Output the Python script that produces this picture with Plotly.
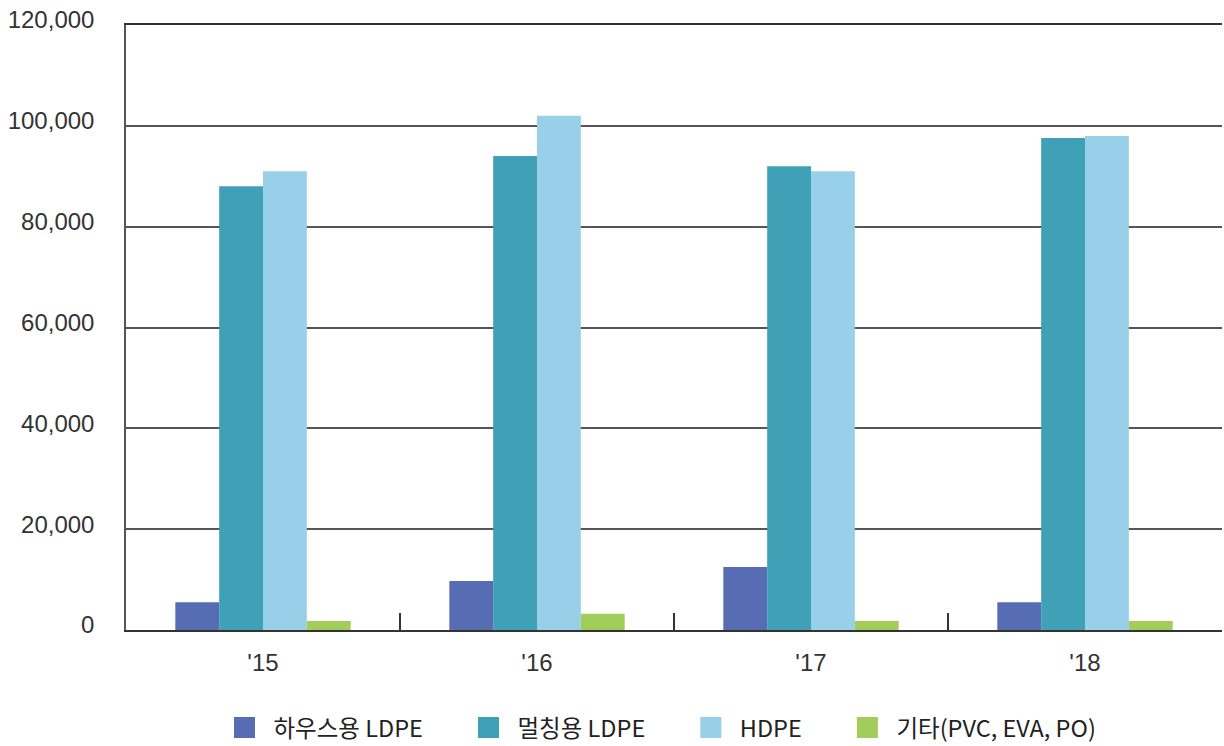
import plotly.graph_objects as go

years = ["'15", "'16", "'17", "'18"]
series_names = ["하우스용 LDPE", "멀칭용 LDPE", "HDPE", "기타(PVC, EVA, PO)"]
house_ldpe = [5500, 9700, 12500, 5500]
mulch_ldpe = [88000, 94000, 92000, 97600]
hdpe = [91000, 102000, 91000, 98000]
other = [1800, 3200, 1800, 1800]
colors = ["#576db3", "#40a0b6", "#98cfe9", "#a3cd5a"]
y_ticks = [0, 20000, 40000, 60000, 80000, 100000, 120000]

fig = go.Figure()
for name, vals, col in zip(series_names, [house_ldpe, mulch_ldpe, hdpe, other], colors):
    fig.add_trace(go.Bar(x=years, y=vals, name=name, showlegend=False,
                         marker=dict(color=col, line=dict(width=0))))
# legend entries with larger square symbols
for name, col in zip(series_names, colors):
    fig.add_trace(go.Scatter(x=[None], y=[None], mode="markers", name=name + "\u00a0" * 6,
                             marker=dict(symbol="square", size=16, color=col,
                                         line=dict(width=5, color=col))))

fig.update_layout(
    width=1224, height=746,
    barmode="group", bargap=0.36, bargroupgap=0,
    plot_bgcolor="white", paper_bgcolor="white",
    margin=dict(l=126, r=2, t=25, b=116, autoexpand=False),
    font=dict(family="Liberation Sans, Arial, sans-serif", size=24, color="#333333"),
    legend=dict(orientation="h", x=0.5, xanchor="center", y=-0.125, yanchor="top",
                font=dict(family="Noto Sans CJK KR, sans-serif", size=23.5, color="#222222"),
                itemwidth=48, tracegroupgap=0),
    xaxis=dict(showgrid=False, showline=True, linecolor="#333333", linewidth=2, mirror=True,
               ticks="inside", tickson="boundaries", ticklen=17, tickcolor="#333333", tickwidth=1.5,
               ticklabelstandoff=10, automargin=False,
               tickfont=dict(size=24, color="#333333")),
    yaxis=dict(range=[0, 120000], tickvals=y_ticks, tickformat=",", showgrid=True,
               gridcolor="#555555", gridwidth=1.5, showline=True, linecolor="#555555", linewidth=1.5,
               zeroline=False, ticks="", ticklabelstandoff=25, ticklabelshift=-5, automargin=False,
               tickfont=dict(size=24, color="#333333")),
)
fig.write_html("out.html", config={"displayModeBar": False},
               post_script="document.body.style.margin='0';")
